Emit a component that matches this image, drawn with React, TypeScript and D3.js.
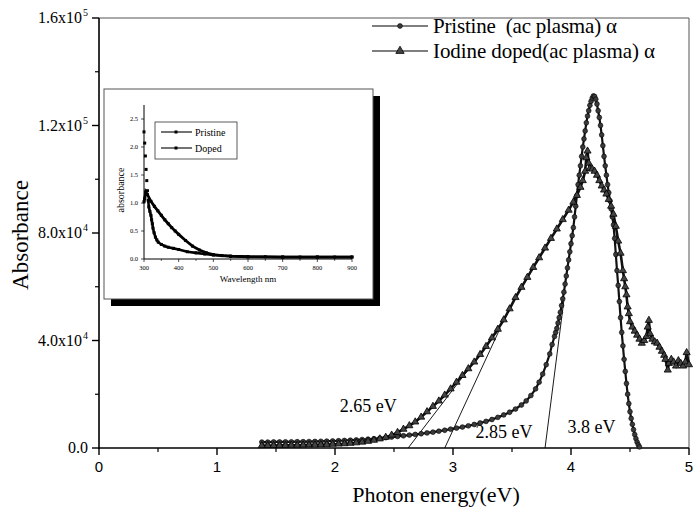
import React from 'react';
import * as d3 from 'd3';

const W = 694;
const H = 510;
const serif = '"Liberation Serif", "Times New Roman", serif';
const sans = '"Liberation Sans", Arial, sans-serif';

// main plot: absorbance vs photon energy
const pristineEnergy = [
  1.38, 1.43, 1.48, 1.53, 1.58, 1.63, 1.68, 1.73, 1.78, 1.83, 1.88, 1.93, 1.98, 2.03, 2.08, 2.13, 2.18, 2.23, 2.28, 2.33,
  2.38, 2.43, 2.48, 2.53, 2.58, 2.63, 2.68, 2.73, 2.78, 2.83, 2.88, 2.93, 2.98, 3.03, 3.08, 3.13, 3.18, 3.23, 3.28, 3.33,
  3.38, 3.43, 3.48, 3.53, 3.58, 3.62, 3.66, 3.70, 3.73, 3.76, 3.79, 3.82, 3.84, 3.86, 3.87, 3.88, 3.89, 3.90, 3.91, 3.92,
  3.93, 3.94, 3.95, 3.96, 3.97, 3.98, 3.99, 4.00, 4.01, 4.02, 4.03, 4.04, 4.05, 4.06, 4.07, 4.08, 4.09, 4.10, 4.11, 4.12,
  4.13, 4.14, 4.15, 4.16, 4.17, 4.18, 4.19, 4.20, 4.21, 4.22, 4.23, 4.24, 4.25, 4.26, 4.27, 4.28, 4.29, 4.30, 4.31, 4.32,
  4.33, 4.34, 4.35, 4.36, 4.37, 4.38, 4.39, 4.40, 4.41, 4.42, 4.43, 4.44, 4.45, 4.46, 4.47, 4.48, 4.49, 4.50, 4.51, 4.52,
  4.53, 4.54, 4.55, 4.56, 4.57, 4.58,
];
const pristineAbs = [
  2200, 2200, 2250, 2250, 2300, 2300, 2350, 2350, 2400, 2450, 2500, 2550, 2600, 2700, 2800, 2900, 3000, 3150, 3300, 3450,
  3650, 3850, 4050, 4300, 4550, 4800, 5050, 5300, 5600, 5900, 6250, 6600, 7000, 7400, 7800, 8250, 8750, 9300, 9900, 10600,
  11400, 12300, 13300, 14500, 16000, 17500, 19500, 22000, 24500, 27500, 31000, 35000, 38500, 41500, 43000, 44500, 46500, 48500, 50500, 53000,
  55500, 58000, 61000, 64000, 67000, 70000, 73000, 76000, 79000, 82000, 86000, 90000, 94000, 98000, 101500, 105000, 108500, 112000, 115000, 118000,
  121000, 123500, 125500, 127500, 129000, 130200, 131000, 130800, 129800, 128000, 125500, 123000, 120000, 116500, 112500, 108500, 105000, 101500, 98000, 95000,
  92000, 89000, 86000, 83000, 78000, 72000, 66000, 60500, 54500, 48500, 43000, 38000, 33000, 28500, 24000, 20000, 16500, 13500, 11000, 8800,
  6800, 5000, 3500, 2200, 1200, 400,
];

const dopedEnergy = [
  1.38, 1.43, 1.48, 1.53, 1.58, 1.63, 1.68, 1.73, 1.78, 1.83, 1.88, 1.93, 1.98, 2.03, 2.08, 2.13, 2.18, 2.23, 2.28, 2.33,
  2.38, 2.43, 2.48, 2.53, 2.58, 2.63, 2.68, 2.73, 2.78, 2.83, 2.88, 2.93, 2.98, 3.03, 3.08, 3.13, 3.18, 3.23, 3.28, 3.33,
  3.38, 3.43, 3.48, 3.53, 3.58, 3.63, 3.68, 3.73, 3.78, 3.83, 3.88, 3.93, 3.98, 4.02, 4.05, 4.08, 4.10, 4.12, 4.13, 4.14,
  4.15, 4.16, 4.18, 4.20, 4.22, 4.24, 4.26, 4.28, 4.30, 4.32, 4.34, 4.36, 4.38, 4.40, 4.42, 4.44, 4.45, 4.46, 4.47, 4.48,
  4.49, 4.50, 4.52, 4.54, 4.56, 4.58, 4.60, 4.62, 4.64, 4.65, 4.66, 4.67, 4.69, 4.71, 4.73, 4.75, 4.77, 4.79, 4.80, 4.82,
  4.83, 4.85, 4.87, 4.89, 4.91, 4.93, 4.95, 4.97, 4.98, 5.00,
];
const dopedAbs = [
  900, 950, 950, 1000, 1000, 1050, 1050, 1100, 1150, 1200, 1250, 1300, 1400, 1500, 1600, 1750, 1950, 2200, 2500, 2900,
  3400, 4000, 4800, 5800, 7000, 8300, 9700, 11500, 13500, 15500, 17500, 19700, 22000, 24500, 27000, 29500, 32000, 34800, 37800, 41000,
  44200, 47700, 51800, 56000, 59800, 63500, 67200, 70800, 74400, 78000, 81500, 85000, 88500, 91500, 94000, 97000, 99500, 103000, 108000, 110500,
  106000, 104000, 103800, 103000, 101500, 99500, 97500, 96000, 94500, 92500, 90000, 87000, 82500, 77000, 72500, 66000, 63000, 60000, 57000, 52500,
  50000, 47000, 45000, 43500, 42000, 40500, 39000, 40000, 41500, 45000, 47500, 42500, 40500, 39500, 39000, 37500, 36000, 34500, 33000, 29000,
  31500, 33000, 32000, 30500, 32500, 31500, 30500, 32000, 35500, 31000,
];

// band-gap extrapolation lines: start on the energy axis, end on the curve
const tangentFrom = [2.62, 2.93, 3.78];
const tangentToEnergy = [3.38, 3.4, 3.94];
const tangentToAbs = [43500, 44600, 55000];
const gapLabels = ['2.65 eV', '2.85 eV', '3.8 eV'];
const gapLabelEnergy = [2.04, 3.19, 3.97];
const gapLabelAbs = [13400, 3700, 5600];

const xTicks = [0, 1, 2, 3, 4, 5];
const yTicks = [0, 40000, 80000, 120000, 160000];
const yTickBase = ['0.0', '4.0x10', '8.0x10', '1.2x10', '1.6x10'];
const yTickExp = ['', '4', '4', '5', '5'];

const legendNames = ['Pristine  (ac plasma) \u03b1', 'Iodine doped(ac plasma) \u03b1'];
const legendWidths = [184, 222];

// inset: absorbance vs wavelength
const insetPristineNm = [300, 302, 304, 306, 308, 310, 312, 314, 317, 320, 322, 324, 326, 329, 333, 337, 341, 350, 360, 370, 385, 400, 425, 450, 475, 500, 550, 600, 650, 700, 750, 800, 850, 900];
const insetPristineAbs = [2.27, 2.07, 1.84, 1.6, 1.4, 1.22, 1.05, 0.93, 0.85, 0.78, 0.7, 0.63, 0.55, 0.47, 0.39, 0.34, 0.3, 0.26, 0.23, 0.21, 0.19, 0.17, 0.13, 0.11, 0.09, 0.07, 0.05, 0.04, 0.04, 0.035, 0.035, 0.035, 0.035, 0.035];
const insetDopedNm = [300, 302, 305, 310, 320, 330, 340, 350, 360, 370, 380, 390, 400, 420, 440, 460, 480, 500, 525, 550, 600, 700, 800, 900];
const insetDopedAbs = [1.02, 1.08, 1.2, 1.15, 1.03, 0.94, 0.86, 0.78, 0.7, 0.63, 0.56, 0.5, 0.44, 0.33, 0.23, 0.16, 0.11, 0.08, 0.06, 0.05, 0.04, 0.035, 0.035, 0.035];
const insetXTicks = [300, 400, 500, 600, 700, 800, 900];
const insetYTicks = [0, 0.5, 1.0, 1.5, 2.0, 2.5];
const insetLegend = ['Pristine', 'Doped'];

const x = d3.scaleLinear().domain([0, 5]).range([99, 689]);
const y = d3.scaleLinear().domain([0, 160000]).range([448, 18]);

const ix = d3.scaleLinear().domain([300, 900]).range([144, 352]);
const iy = d3.scaleLinear().domain([0, 2.75]).range([259, 105]);

const tri = d3.symbol(d3.symbolTriangle, 22)();
const triBig = d3.symbol(d3.symbolTriangle, 30)();

export default function App() {
  const pristine = pristineEnergy.map((e, i) => [e, pristineAbs[i]] as [number, number]);
  const doped = dopedEnergy.map((e, i) => [e, dopedAbs[i]] as [number, number]);
  const line = d3.line<[number, number]>().x(d => x(d[0])).y(d => y(d[1]));

  const insP = insetPristineNm.map((n, i) => [n, insetPristineAbs[i]] as [number, number]);
  const insD = insetDopedNm.map((n, i) => [n, insetDopedAbs[i]] as [number, number]);
  const iline = d3.line<[number, number]>().x(d => ix(d[0])).y(d => iy(d[1]));

  const xMinor = d3.range(0.5, 5, 1);
  const yMinor = d3.range(20000, 160000, 40000);

  return (
    <svg width={W} height={H} style={{ position: 'absolute', left: 0, top: 0, background: '#fff' }}>
      {/* frame */}
      <line x1={99} x2={689} y1={18} y2={18} stroke="#555" strokeWidth={1} />
      <line x1={689} x2={689} y1={18} y2={448} stroke="#555" strokeWidth={1} />
      <line x1={99} x2={99} y1={18} y2={449} stroke="#000" strokeWidth={1.6} />
      <line x1={98} x2={689} y1={448} y2={448} stroke="#000" strokeWidth={1.6} />

      {/* x axis */}
      {xTicks.map(t => (
        <g key={'xt' + t}>
          <line x1={x(t)} x2={x(t)} y1={448} y2={455} stroke="#000" strokeWidth={1.4} />
          <text x={x(t)} y={472} textAnchor="middle" fontFamily={sans} fontSize={15}>{t}</text>
        </g>
      ))}
      {xMinor.map(t => (
        <line key={'xm' + t} x1={x(t)} x2={x(t)} y1={448} y2={452} stroke="#000" strokeWidth={1.2} />
      ))}
      <text x={436} y={502} textAnchor="middle" fontFamily={serif} fontSize={22}>Photon energy(eV)</text>

      {/* y axis */}
      {yTicks.map((t, i) => (
        <g key={'yt' + t}>
          <line x1={92} x2={99} y1={y(t)} y2={y(t)} stroke="#000" strokeWidth={1.4} />
          <text x={yTickExp[i] ? 82 : 88} y={y(t) + 5} textAnchor="end" fontFamily={serif} fontSize={16}>
            {yTickBase[i]}
          </text>
          {yTickExp[i] && (
            <text x={83} y={y(t) - 2} fontFamily={serif} fontSize={10}>{yTickExp[i]}</text>
          )}
        </g>
      ))}
      {yMinor.map(t => (
        <line key={'ym' + t} x1={95} x2={99} y1={y(t)} y2={y(t)} stroke="#000" strokeWidth={1.2} />
      ))}
      <text transform="translate(28,235) rotate(-90)" textAnchor="middle" fontFamily={serif} fontSize={23}>Absorbance</text>

      {/* tangent lines */}
      {tangentFrom.map((e, i) => (
        <line key={'tg' + i} x1={x(e)} y1={y(0)} x2={x(tangentToEnergy[i])} y2={y(tangentToAbs[i])} stroke="#000" strokeWidth={0.9} />
      ))}

      {/* series */}
      <path d={line(pristine) || ''} fill="none" stroke="#111" strokeWidth={2.2} />
      <path d={line(doped) || ''} fill="none" stroke="#111" strokeWidth={2.6} />
      {pristine.map((d, i) => (
        <circle key={'pc' + i} cx={x(d[0])} cy={y(d[1])} r={2.4} fill="#3a3a3a" stroke="#000" strokeWidth={0.6} />
      ))}
      {doped.map((d, i) => (
        <path key={'dt' + i} d={tri} transform={`translate(${x(d[0])},${y(d[1])})`} fill="#444" stroke="#000" strokeWidth={0.8} />
      ))}

      {gapLabels.map((s, i) => (
        <text key={'gl' + i} x={x(gapLabelEnergy[i])} y={y(gapLabelAbs[i])} fontFamily={serif} fontSize={18}>{s}</text>
      ))}

      {/* legend */}
      {legendNames.map((s, i) => (
        <g key={'lg' + i} transform={`translate(0,${26 + i * 25})`}>
          <line x1={372} x2={428} y1={0} y2={0} stroke="#000" strokeWidth={1.2} />
          {i === 0 ? (
            <circle cx={400} cy={0} r={2.4} fill="#3a3a3a" stroke="#000" strokeWidth={0.6} />
          ) : (
            <path d={triBig} transform="translate(400,0)" fill="#444" stroke="#000" strokeWidth={0.8} />
          )}
          <text x={433} y={7} fontFamily={serif} fontSize={21} textLength={legendWidths[i]} lengthAdjust="spacing" style={{ whiteSpace: 'pre' }}>{s}</text>
        </g>
      ))}

      {/* inset */}
      <rect x={111} y={96} width={269} height={210} fill="#000" />
      <rect x={104} y={89} width={269} height={210} fill="#fff" stroke="#555" strokeWidth={1} />
      <line x1={144} x2={144} y1={105} y2={259} stroke="#000" strokeWidth={1} />
      <line x1={144} x2={352} y1={259} y2={259} stroke="#000" strokeWidth={1} />
      {insetXTicks.map(t => (
        <g key={'ixt' + t}>
          <line x1={ix(t)} x2={ix(t)} y1={259} y2={262} stroke="#000" strokeWidth={0.7} />
          <text x={ix(t)} y={270} textAnchor="middle" fontFamily={serif} fontSize={6.5}>{t}</text>
        </g>
      ))}
      {d3.range(350, 900, 100).map(t => (
        <line key={'ixm' + t} x1={ix(t)} x2={ix(t)} y1={259} y2={261} stroke="#000" strokeWidth={0.6} />
      ))}
      {insetYTicks.map(t => (
        <g key={'iyt' + t}>
          <line x1={141} x2={144} y1={iy(t)} y2={iy(t)} stroke="#000" strokeWidth={0.7} />
          <text x={138} y={iy(t) + 2} textAnchor="end" fontFamily={serif} fontSize={6.5}>{d3.format('.1f')(t)}</text>
        </g>
      ))}
      <text transform="translate(124,190) rotate(-90)" textAnchor="middle" fontFamily={serif} fontSize={10}>absorbance</text>
      <text x={248} y={282} textAnchor="middle" fontFamily={serif} fontSize={9}>Wavelength nm</text>

      <path d={iline(insD) || ''} fill="none" stroke="#000" strokeWidth={2.8} />
      <path d={iline(insP.filter(d => d[0] >= 312)) || ''} fill="none" stroke="#000" strokeWidth={2.6} />
      {insP.map((d, i) => (
        <rect key={'ip' + i} x={ix(d[0]) - 1.5} y={iy(d[1]) - 1.5} width={3} height={3} fill="#000" />
      ))}
      {insD.map((d, i) => (
        <rect key={'id' + i} x={ix(d[0]) - 1.5} y={iy(d[1]) - 1.5} width={3} height={3} fill="#000" />
      ))}

      <rect x={155} y={122} width={82} height={37} fill="#fff" stroke="#333" strokeWidth={0.8} />
      {insetLegend.map((s, i) => (
        <g key={'il' + i} transform={`translate(0,${132 + i * 16})`}>
          <line x1={161} x2={192} y1={0} y2={0} stroke="#000" strokeWidth={1.1} />
          <rect x={174.5} y={-1.5} width={3} height={3} fill="#000" />
          <text x={195} y={3.5} fontFamily={serif} fontSize={10}>{s}</text>
        </g>
      ))}
    </svg>
  );
}
